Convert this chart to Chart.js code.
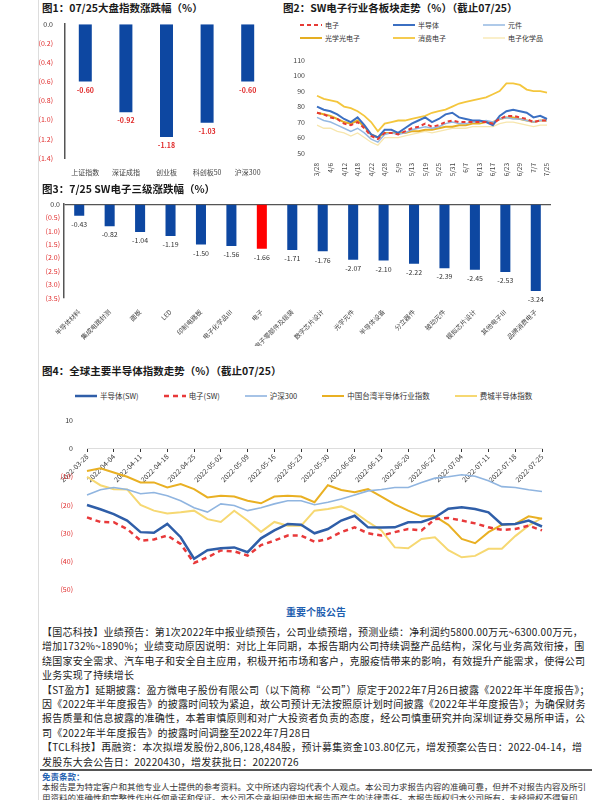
<!DOCTYPE html>
<html>
<head>
<meta charset="utf-8">
<script src="https://cdn.jsdelivr.net/npm/chart.js@4.4.1/dist/chart.umd.min.js"></script>
<style>
body { margin: 0; background: #fff; font-family: "Noto Sans CJK SC", "Noto Sans", sans-serif; }
#page { position: relative; width: 600px; height: 800px; overflow: hidden; background: #fff; }
.box { position: absolute; }
.title { position: absolute; font-size: 10.5px; line-height: 13px; font-weight: bold; color: #1a1a1a; white-space: nowrap; }
.lg { position: absolute; font-size: 7px; color: #333; }
.lg .it { display: flex; align-items: center; height: 13px; white-space: nowrap; }
.lg svg { margin-right: 3px; }
#lg2 { display: grid; grid-template-columns: 93px 90px 90px; }
#lg4 { display: flex; gap: 25px; font-size: 7.5px; }
#notice { position: absolute; left: 42px; top: 605px; width: 548px; text-align: center; color: #1f5fb0; font-weight: bold; font-size: 10px; line-height: 14px; }
#news { position: absolute; left: 42px; top: 625px; width: 550px; font-size: 10px; line-height: 14.4px; color: #222; letter-spacing: 0.25px; }
#news p { margin: 0; }
#rule { position: absolute; left: 40px; top: 769px; width: 552px; height: 2px; background: #555; }
#disc-h { position: absolute; left: 42px; top: 771px; font-size: 8.5px; line-height: 11px; color: #1f5fb0; font-weight: bold; }
#disc { position: absolute; left: 42px; top: 781px; width: 550px; font-size: 8.5px; line-height: 11px; color: #333; }
#border { position: absolute; left: 38px; top: 0; width: 1px; height: 800px; background: #ddd; }
</style>
</head>
<body>
<div id="page">
  <div id="border"></div>

  <div class="title" style="left:42px;top:1px;">图1：07/25大盘指数涨跌幅（%）</div>
  <div class="box" style="left:36px;top:16px;width:244px;height:166px;"><canvas id="c1"></canvas></div>

  <div class="title" style="left:283px;top:1px;">图2：SW电子行业各板块走势（%）（截止07/25）</div>
  <div class="lg" id="lg2" style="left:300px;top:18px;"></div>
  <div class="box" style="left:283px;top:52px;width:300px;height:130px;"><canvas id="c2"></canvas></div>

  <div class="title" style="left:42px;top:182px;">图3：7/25 SW电子三级涨跌幅（%）</div>
  <div class="box" style="left:40px;top:196px;width:530px;height:150px;"><canvas id="c3"></canvas></div>

  <div class="title" style="left:42px;top:364px;">图4：全球主要半导体指数走势（%）（截止07/25）</div>
  <div class="lg" id="lg4" style="left:75px;top:389px;"></div>
  <div class="box" style="left:40px;top:410px;width:555px;height:190px;"><canvas id="c4"></canvas></div>

  <div id="notice">重要个股公告</div>
  <div id="news">
    <p>【国芯科技】业绩预告：第1次2022年中报业绩预告，公司业绩预增，预测业绩：净利润约5800.00万元~6300.00万元，增加1732%~1890%；业绩变动原因说明：对比上年同期，本报告期内公司持续调整产品结构，深化与业务高效衔接，围绕国家安全需求、汽车电子和安全自主应用，积极开拓市场和客户，克服疫情带来的影响，有效提升产能需求，使得公司业务实现了持续增长</p>
    <p>【ST盈方】延期披露：盈方微电子股份有限公司（以下简称“公司”）原定于2022年7月26日披露《2022年半年度报告》；因《2022年半年度报告》的披露时间较为紧迫，故公司预计无法按照原计划时间披露《2022年半年度报告》；为确保财务报告质量和信息披露的准确性，本着审慎原则和对广大投资者负责的态度，经公司慎重研究并向深圳证券交易所申请，公司《2022年半年度报告》的披露时间调整至2022年7月28日</p>
    <p>【TCL科技】再融资：本次拟增发股份2,806,128,484股，预计募集资金103.80亿元，增发预案公告日：2022-04-14，增发股东大会公告日：20220430，增发获批日：20220726</p>
  </div>
  <div id="rule"></div>
  <div id="disc-h">免责条款：</div>
  <div id="disc">本报告是为特定客户和其他专业人士提供的参考资料。文中所述内容均代表个人观点。本公司力求报告内容的准确可靠，但并不对报告内容及所引用资料的准确性和完整性作出任何承诺和保证。本公司不会承担因使用本报告而产生的法律责任。本报告版权归本公司所有，未经授权不得复印、转发或向特定读者群以外的人士传阅，如需引用或转载本报告，务必与本公司研究所联系。网</div>
</div>

<script>
// 图1 数据
const cats1 = ['上证指数', '深证成指', '创业板', '科创板50', '沪深300'];
const vals1 = [-0.60, -0.92, -1.18, -1.03, -0.60];

// 图2 数据
const dates2 = ['3/28','3/31','4/6','4/8','4/12','4/14','4/18','4/20','4/22','4/26','4/28','5/5',
                '5/9','5/11','5/13','5/17','5/19','5/23','5/25','5/27','5/31','6/2','6/7','6/9',
                '6/13','6/15','6/17','6/21','6/23','6/27','6/29','7/4','7/7','7/19','7/25'];
const ele2  = [76,75,73,72,69,68,70,66,61,59,63,63,62,64,66,67,69,67,68,70,71,70,70,70,70,70,69,72,74,74,73,72,70,71,71];
const semi2 = [80,78,77,75,72,70,73,68,62,60,65,65,63,66,69,71,73,70,72,75,76,73,72,71,71,70,68,74,77,78,77,76,73,74,72];
const comp2 = [73,71,70,68,66,64,66,63,59,57,62,63,62,63,65,66,67,66,67,69,70,69,69,70,70,71,70,72,73,72,72,71,70,71,71];
const opto2 = [76,75,74,72,70,69,71,67,62,60,63,63,63,63,64,64,65,65,66,67,67,68,68,69,69,70,70,72,73,73,72,71,70,71,71];
const cons2 = [87,85,84,83,80,79,77,74,70,64,69,70,71,71,72,73,74,76,77,78,80,82,83,84,85,86,88,90,95,95,94,91,90,90,89];
const chem2 = [68,66,66,64,63,61,63,60,57,55,60,60,60,61,62,63,64,63,64,65,66,66,66,67,67,67,67,69,70,70,69,68,67,68,68];

// 图3 数据
const cats3 = ['半导体材料', '集成电路封测', '面板', 'LED', '印制电路板', '电子化学品Ⅲ', '电子',
               '消费电子零部件及组装', '数字芯片设计', '光学元件', '半导体设备', '分立器件',
               '被动元件', '模拟芯片设计', '其他电子Ⅲ', '品牌消费电子'];
const vals3 = [-0.43, -0.82, -1.04, -1.19, -1.50, -1.56, -1.66, -1.71, -1.76, -2.07, -2.10, -2.22, -2.39, -2.45, -2.53, -3.24];

// 图4 数据
const dates4 = ['2022-03-28','2022-03-31','2022-04-04','2022-04-07','2022-04-11','2022-04-14','2022-04-18',
                '2022-04-21','2022-04-25','2022-04-28','2022-05-02','2022-05-05','2022-05-09','2022-05-12',
                '2022-05-16','2022-05-19','2022-05-23','2022-05-26','2022-05-30','2022-06-02','2022-06-06',
                '2022-06-09','2022-06-13','2022-06-16','2022-06-20','2022-06-23','2022-06-27','2022-06-30',
                '2022-07-04','2022-07-07','2022-07-11','2022-07-14','2022-07-18','2022-07-21','2022-07-25'];
const semiSW4 = [-20,-21.5,-23.2,-25.5,-29.6,-29.8,-26.7,-31.4,-39,-36,-35.3,-35,-36.7,-31.8,-29,-26.7,-27,-30,
                 -28.5,-25.5,-23.8,-27.9,-28,-27.9,-26.1,-26,-24.4,-21.3,-20.8,-21.4,-22.6,-26.9,-26.7,-25.5,-27.6];
const eleSW4  = [-24.4,-26,-26.1,-28.5,-32.6,-32.2,-30.8,-33.8,-40.5,-38.5,-36.1,-36.4,-37.9,-34.2,-32.6,-30.8,-30.8,-33,
                 -32,-29.6,-27.9,-30,-30.8,-29.6,-28.5,-29,-25,-24.6,-25.5,-26.5,-27.9,-28.8,-28.5,-27.3,-29];
const hs3004  = [-16.5,-14.6,-13.8,-14.5,-16,-15.6,-16.7,-18.5,-21,-22.5,-19.6,-20.2,-22,-21,-19.6,-18.5,-18.5,-19.9,
                 -19,-17.9,-16.5,-15,-14.5,-13.8,-13.8,-12,-10.5,-10,-9.3,-9.8,-11.4,-13.5,-13.8,-14.6,-15.2];
const tw4     = [-8,-7,-8.5,-10,-12,-12,-13.8,-12.6,-14.4,-17.3,-16.7,-17,-18.5,-19.4,-17,-16.7,-17,-19,
                 -13,-14.7,-15.5,-14.4,-17,-19.8,-22,-24,-24,-27,-32,-33.5,-29.6,-27,-26.7,-24,-24.9];
const sox4    = [-10,-13,-14.4,-14.5,-20,-22,-23,-22.6,-22,-25,-26,-22,-25.5,-29.5,-26,-27.3,-27.3,-22,
                 -21.4,-20.5,-22.6,-26,-29,-35,-35.3,-32,-31.4,-36,-38.5,-38,-35.5,-35.5,-31,-27.3,-24.6];

const FONT = '"Noto Sans CJK SC", "Noto Sans", sans-serif';
const RED = '#e02a2a';
const BLUE_BAR = '#0d47a1';

Chart.defaults.font.family = FONT;
Chart.defaults.animation = false;

// 负数用括号显示
function fmtTick(v, digits) {
    if (Math.abs(v) < 1e-9) return (0).toFixed(digits);
    if (v < 0) return '(' + Math.abs(v).toFixed(digits) + ')';
    return v.toFixed(digits);
}

// 柱子下方数值标签
const valueLabels = {
    id: 'valueLabels',
    afterDatasetsDraw(chart, args, opts) {
        const ctx = chart.ctx;
        chart.data.datasets.forEach((ds, i) => {
            chart.getDatasetMeta(i).data.forEach((bar, j) => {
                ctx.save();
                ctx.fillStyle = opts.color;
                ctx.font = opts.font;
                ctx.textAlign = 'center';
                ctx.textBaseline = 'top';
                ctx.fillText(ds.data[j].toFixed(2), bar.x, bar.y + opts.offset);
                ctx.restore();
            });
        });
    }
};

// 图1
new Chart(document.getElementById('c1'), {
    type: 'bar',
    data: {
        labels: cats1,
        datasets: [{ data: vals1, backgroundColor: BLUE_BAR, barPercentage: 0.32, categoryPercentage: 1 }]
    },
    options: {
        responsive: true,
        maintainAspectRatio: false,
        layout: { padding: { top: 5, right: 12, left: 0, bottom: 0 } },
        plugins: {
            legend: { display: false },
            tooltip: { enabled: false },
            valueLabels: { color: RED, font: 'bold 7px ' + FONT, offset: 5 }
        },
        scales: {
            x: {
                grid: { display: false },
                border: { display: false },
                ticks: { color: '#444', font: { size: 7 }, maxRotation: 0, padding: 2 },
                afterFit(s) { s.height = 24; }
            },
            y: {
                min: -1.4, max: 0,
                ticks: {
                    stepSize: 0.2,
                    font: { size: 7 },
                    color: c => c.tick.value < -1e-9 ? RED : '#333',
                    callback: v => fmtTick(v, 1),
                    padding: 4
                },
                grid: { display: false },
                border: { display: true, color: '#555', width: 1.5 },
                afterFit(s) { s.width = 29; }
            }
        }
    },
    plugins: [valueLabels]
});

// 图2
const series2 = [
    { label: '电子', data: ele2, borderColor: '#e63a35', borderWidth: 2, borderDash: [4, 3] },
    { label: '半导体', data: semi2, borderColor: '#3b6fc2', borderWidth: 2 },
    { label: '元件', data: comp2, borderColor: '#94b8e2', borderWidth: 1.5 },
    { label: '光学光电子', data: opto2, borderColor: '#e5ae22', borderWidth: 2 },
    { label: '消费电子', data: cons2, borderColor: '#f4c63d', borderWidth: 1.8 },
    { label: '电子化学品', data: chem2, borderColor: '#f7e6ad', borderWidth: 1.3 }
];

new Chart(document.getElementById('c2'), {
    type: 'line',
    data: {
        labels: dates2,
        datasets: series2.map(s => Object.assign({ pointRadius: 0, tension: 0, fill: false }, s))
    },
    options: {
        responsive: true,
        maintainAspectRatio: false,
        layout: { padding: { top: 7, right: 36, left: 0, bottom: 0 } },
        plugins: { legend: { display: false }, tooltip: { enabled: false } },
        scales: {
            x: {
                grid: { display: false },
                border: { display: false },
                ticks: {
                    autoSkip: false, minRotation: 90, maxRotation: 90,
                    font: { size: 6.5 }, color: '#444', padding: 2,
                    callback: (v, i) => i % 2 === 0 ? dates2[i] : null
                },
                afterFit(s) { s.height = 29; }
            },
            y: {
                min: 50, max: 110,
                ticks: { stepSize: 10, font: { size: 7 }, color: '#444', padding: 4 },
                grid: { display: false },
                border: { display: false },
                afterFit(s) { s.width = 34; }
            }
        }
    }
});

// 图3
new Chart(document.getElementById('c3'), {
    type: 'bar',
    data: {
        labels: cats3,
        datasets: [{
            data: vals3,
            backgroundColor: c => cats3[c.dataIndex] === '电子' ? '#ff0000' : BLUE_BAR,
            barPercentage: 0.33, categoryPercentage: 1
        }]
    },
    options: {
        responsive: true,
        maintainAspectRatio: false,
        layout: { padding: { top: 7, right: 19, left: 0, bottom: 0 } },
        plugins: {
            legend: { display: false },
            tooltip: { enabled: false },
            valueLabels: { color: '#333', font: '7px ' + FONT, offset: 5 }
        },
        scales: {
            x: {
                grid: { display: false },
                border: { display: false },
                ticks: { autoSkip: false, minRotation: 45, maxRotation: 45, font: { size: 6.5 }, color: '#444', padding: 2 },
                afterFit(s) { s.height = 48; }
            },
            y: {
                min: -3.5, max: 0,
                ticks: {
                    stepSize: 0.5,
                    font: { size: 7 },
                    color: c => c.tick.value < -1e-9 ? RED : '#333',
                    callback: v => fmtTick(v, 1),
                    padding: 4
                },
                grid: {
                    drawTicks: false,
                    color: c => Math.abs(c.tick.value) < 1e-9 ? '#555' : 'rgba(0,0,0,0)',
                    lineWidth: 1.3
                },
                border: { display: true, color: '#555', width: 1.5 },
                afterFit(s) { s.width = 24; }
            }
        }
    },
    plugins: [valueLabels]
});

// 图4
const series4 = [
    { label: '半导体(SW)', data: semiSW4, borderColor: '#2f5ea8', borderWidth: 2.5 },
    { label: '电子(SW)', data: eleSW4, borderColor: '#e8393a', borderWidth: 2.5, borderDash: [5, 4] },
    { label: '沪深300', data: hs3004, borderColor: '#90b5e0', borderWidth: 1.6 },
    { label: '中国台湾半导体行业指数', data: tw4, borderColor: '#e9b023', borderWidth: 2 },
    { label: '费城半导体指数', data: sox4, borderColor: '#f6d872', borderWidth: 2 }
];

new Chart(document.getElementById('c4'), {
    type: 'line',
    data: {
        labels: dates4,
        datasets: series4.map(s => Object.assign({ pointRadius: 0, tension: 0, fill: false }, s))
    },
    options: {
        responsive: true,
        maintainAspectRatio: false,
        layout: { padding: { top: 9, right: 53, left: 0, bottom: 10 } },
        plugins: { legend: { display: false }, tooltip: { enabled: false } },
        scales: {
            x: {
                position: { y: 0 },
                grid: { drawOnChartArea: false, tickLength: 3, color: '#333' },
                border: { display: true, color: '#ddd', width: 1 },
                ticks: {
                    autoSkip: false, minRotation: 45, maxRotation: 45,
                    font: { size: 7 }, color: '#333', padding: 1,
                    callback: (v, i) => i % 2 === 0 ? dates4[i] : null
                }
            },
            y: {
                min: -50, max: 10,
                ticks: {
                    stepSize: 10,
                    font: { size: 7 },
                    color: c => c.tick.value < 0 ? RED : '#333',
                    callback: v => fmtTick(v, 0),
                    padding: 6
                },
                grid: { display: false },
                border: { display: false },
                afterFit(s) { s.width = 47; }
            }
        }
    }
});

// HTML 图例
function lineSample(s) {
    const dash = s.borderDash ? ` stroke-dasharray="${s.borderDash.join(' ')}"` : '';
    return `<svg width="22" height="6"><line x1="0" y1="3" x2="22" y2="3" stroke="${s.borderColor}" stroke-width="${s.borderWidth}"${dash}/></svg>`;
}
function buildLegend(id, series) {
    document.getElementById(id).innerHTML = series
        .map(s => `<div class="it">${lineSample(s)}<span>${s.label}</span></div>`).join('');
}
buildLegend('lg2', series2);
buildLegend('lg4', series4);
</script>
</body>
</html>
